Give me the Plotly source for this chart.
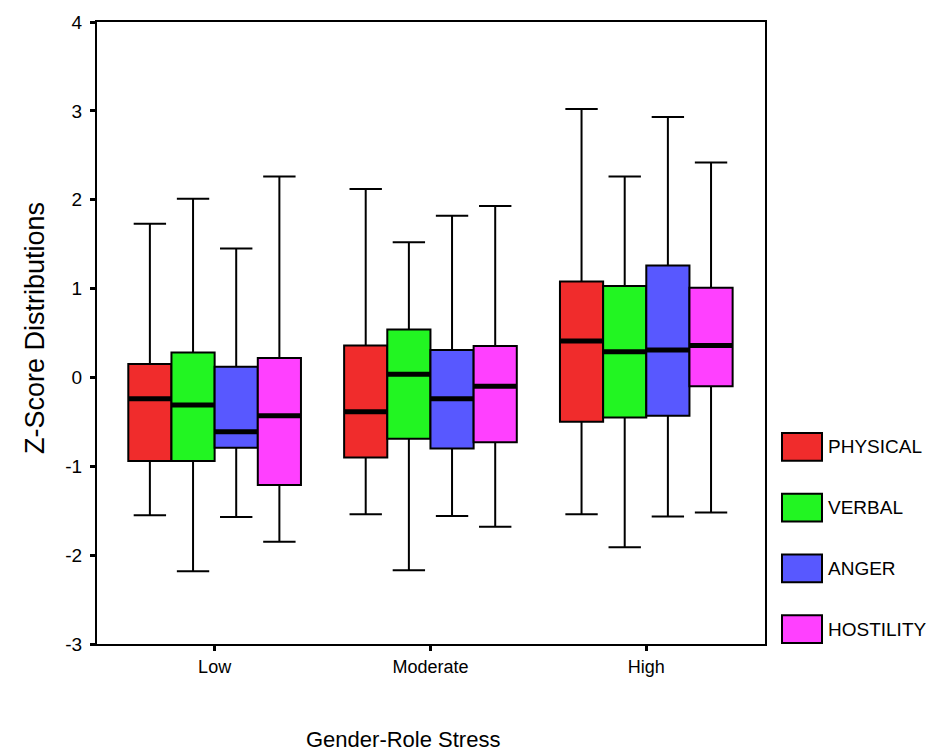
import plotly.graph_objects as go

categories = ["Low", "Moderate", "High"]
series = ["PHYSICAL", "VERBAL", "ANGER", "HOSTILITY"]
colors = ["#F02C2C", "#22F522", "#5858FF", "#FF40FF"]

# five-number summaries per series, ordered Low, Moderate, High
mins = {
    "PHYSICAL": [-1.55, -1.54, -1.54],
    "VERBAL": [-2.18, -2.17, -1.91],
    "ANGER": [-1.57, -1.56, -1.565],
    "HOSTILITY": [-1.85, -1.68, -1.52],
}
q1s = {
    "PHYSICAL": [-0.94, -0.90, -0.50],
    "VERBAL": [-0.94, -0.69, -0.45],
    "ANGER": [-0.79, -0.80, -0.43],
    "HOSTILITY": [-1.21, -0.73, -0.10],
}
medians = {
    "PHYSICAL": [-0.24, -0.385, 0.41],
    "VERBAL": [-0.31, 0.035, 0.29],
    "ANGER": [-0.61, -0.24, 0.31],
    "HOSTILITY": [-0.43, -0.10, 0.36],
}
q3s = {
    "PHYSICAL": [0.15, 0.36, 1.08],
    "VERBAL": [0.28, 0.54, 1.03],
    "ANGER": [0.12, 0.31, 1.26],
    "HOSTILITY": [0.22, 0.355, 1.01],
}
maxs = {
    "PHYSICAL": [1.73, 2.12, 3.02],
    "VERBAL": [2.01, 1.52, 2.26],
    "ANGER": [1.45, 1.82, 2.93],
    "HOSTILITY": [2.26, 1.93, 2.42],
}
y_ticks = [-3, -2, -1, 0, 1, 2, 3, 4]

FONT = "Liberation Sans, Arial, sans-serif"
BOX_W = 0.2
n = len(series)

fig = go.Figure()
cat_idx = list(range(len(categories)))
for j, s in enumerate(series):
    off = (j - (n - 1) / 2) * BOX_W
    xs = [i + off for i in cat_idx]
    fig.add_trace(go.Box(
        x=xs, q1=q1s[s], median=medians[s], q3=q3s[s],
        lowerfence=mins[s], upperfence=maxs[s],
        width=BOX_W, whiskerwidth=0.75,
        fillcolor=colors[j], line=dict(color="black", width=2),
        name=s, showlegend=False, boxpoints=False, hoverinfo="skip",
    ))
    mx, my = [], []
    for x, m in zip(xs, medians[s]):
        mx += [x - BOX_W / 2, x + BOX_W / 2, None]
        my += [m, m, None]
    fig.add_trace(go.Scatter(x=mx, y=my, mode="lines",
                             line=dict(color="black", width=5),
                             showlegend=False, hoverinfo="skip"))

# custom legend (large swatches like the original)
L, R, T, B = 97, 765, 16, 644
def px(xp):
    return (xp - L) / (R - L)
def py(yp):
    return (B - yp) / (B - T)

shapes = []
annotations = []
for j, s in enumerate(series):
    top = 431 + j * 61.3
    shapes.append(dict(type="rect", xref="paper", yref="paper",
                       x0=px(782), x1=px(822), y0=py(top + 28), y1=py(top),
                       fillcolor=colors[j], line=dict(color="black", width=2)))
    annotations.append(dict(xref="paper", yref="paper", x=px(826), y=py(top + 14),
                            text=s, showarrow=False, xanchor="left", yanchor="middle",
                            font=dict(family=FONT, size=19, color="black")))

annotations.append(dict(xref="paper", yref="paper", x=px(403), y=py(740),
                        text="Gender-Role Stress", showarrow=False,
                        xanchor="center", yanchor="middle",
                        font=dict(family=FONT, size=22, color="black")))
annotations.append(dict(xref="paper", yref="paper", x=px(35), y=py(325),
                        text="Z-Score Distributions", showarrow=False, textangle=-90,
                        xanchor="center", yanchor="middle",
                        font=dict(family=FONT, size=27, color="black")))

fig.update_layout(
    width=938, height=753,
    margin=dict(l=L, r=938 - R, t=T, b=753 - B),
    paper_bgcolor="white", plot_bgcolor="white",
    showlegend=False, boxmode="overlay",
    shapes=shapes, annotations=annotations,
    font=dict(family=FONT, size=19, color="black"),
)
fig.update_xaxes(
    range=[-0.545, 2.55], tickvals=cat_idx, ticktext=categories,
    showgrid=False, zeroline=False, showline=True, mirror=True,
    linecolor="black", linewidth=2, ticks="outside", ticklen=5, tickwidth=3,
    tickcolor="black", tickfont=dict(family=FONT, size=18),
)
fig.update_yaxes(
    range=[-3, 4], tickvals=y_ticks, ticktext=[str(v) for v in y_ticks],
    showgrid=False, zeroline=False, showline=True, mirror=True,
    linecolor="black", linewidth=2, ticks="outside", ticklen=5, tickwidth=3,
    tickcolor="black", tickfont=dict(family=FONT, size=19), ticklabelstandoff=4,
)

fig.write_html("out.html", config={"displayModeBar": False},
               post_script="document.body.style.margin='0px';")
